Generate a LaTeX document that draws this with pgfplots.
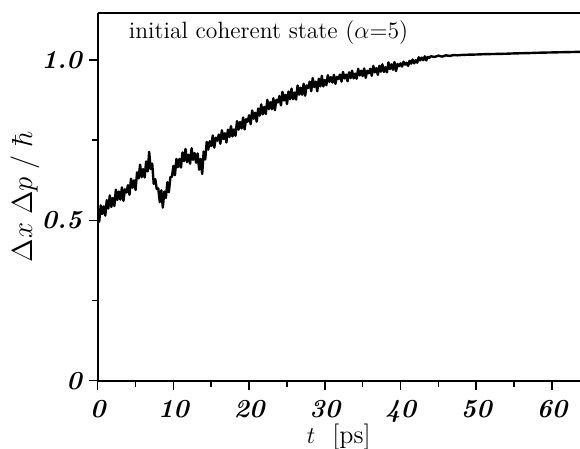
\documentclass[border=0pt]{standalone}
\usepackage{pgfplots}
\pgfplotsset{compat=1.18}
\pgfplotstableread{
t y
0.0 0.525
0.2 0.496
0.4 0.547
0.6 0.520
0.8 0.544
1.0 0.515
1.2 0.563
1.4 0.537
1.6 0.578
1.8 0.542
2.0 0.570
2.2 0.545
2.4 0.596
2.6 0.564
2.8 0.590
3.0 0.565
3.2 0.603
3.4 0.561
3.6 0.597
3.8 0.587
4.0 0.610
4.2 0.580
4.4 0.630
4.6 0.602
4.8 0.625
5.0 0.595
5.2 0.650
5.4 0.631
5.6 0.674
5.8 0.635
6.0 0.660
6.2 0.634
6.4 0.684
6.6 0.653
6.8 0.714
7.0 0.660
7.2 0.677
7.4 0.614
7.6 0.629
7.8 0.598
8.0 0.600
8.2 0.557
8.4 0.594
8.6 0.540
8.8 0.590
9.0 0.570
9.2 0.619
9.4 0.588
9.6 0.635
9.8 0.636
10.0 0.670
10.2 0.641
10.4 0.692
10.6 0.666
10.8 0.692
11.0 0.665
11.2 0.712
11.4 0.685
11.6 0.723
11.8 0.682
12.0 0.705
12.2 0.677
12.4 0.725
12.6 0.689
12.8 0.710
13.0 0.680
13.2 0.709
13.4 0.658
13.6 0.692
13.8 0.645
14.0 0.715
14.2 0.690
14.4 0.745
14.6 0.721
14.8 0.747
15.0 0.732
15.2 0.765
15.4 0.727
15.6 0.758
15.8 0.749
16.0 0.768
16.2 0.739
16.4 0.781
16.6 0.754
16.8 0.772
17.0 0.743
17.2 0.783
17.4 0.760
17.6 0.794
17.8 0.762
18.0 0.784
18.2 0.764
18.4 0.810
18.6 0.783
18.8 0.807
19.0 0.787
19.2 0.821
19.4 0.784
19.6 0.816
19.8 0.808
20.0 0.828
20.2 0.800
20.4 0.843
20.6 0.817
20.8 0.836
21.0 0.808
21.2 0.849
21.4 0.827
21.6 0.862
21.8 0.831
22.0 0.854
22.2 0.832
22.4 0.876
22.6 0.847
22.8 0.869
23.0 0.847
23.2 0.881
23.4 0.844
23.6 0.876
23.8 0.868
24.0 0.888
24.2 0.859
24.4 0.901
24.6 0.874
24.8 0.892
25.0 0.863
25.2 0.902
25.4 0.878
25.6 0.911
25.8 0.878
26.0 0.899
26.2 0.877
26.4 0.921
26.6 0.892
26.8 0.914
27.0 0.892
27.2 0.926
27.4 0.889
27.6 0.921
27.8 0.913
28.0 0.933
28.2 0.903
28.4 0.944
28.6 0.916
28.8 0.933
29.0 0.903
29.2 0.942
29.4 0.918
29.6 0.951
29.8 0.918
30.0 0.938
30.2 0.922
30.4 0.953
30.6 0.932
30.8 0.947
31.0 0.930
31.2 0.954
31.4 0.926
31.6 0.948
31.8 0.941
32.0 0.955
32.2 0.933
32.4 0.963
32.6 0.943
32.8 0.955
33.0 0.934
33.2 0.962
33.4 0.944
33.6 0.967
33.8 0.943
34.0 0.958
34.2 0.942
34.4 0.973
34.6 0.952
34.8 0.967
35.0 0.950
35.2 0.974
35.4 0.945
35.6 0.967
35.8 0.959
36.0 0.973
36.2 0.951
36.4 0.982
36.6 0.962
36.8 0.975
37.0 0.954
37.2 0.982
37.4 0.964
37.6 0.987
37.8 0.963
38.0 0.978
38.2 0.962
38.4 0.993
38.6 0.972
38.8 0.987
39.0 0.970
39.2 0.994
39.4 0.966
39.6 0.988
39.8 0.981
40.0 0.990
40.2 0.980
40.4 0.995
40.6 0.986
40.8 0.992
41.0 0.982
41.2 0.998
41.4 0.989
41.6 1.002
41.8 0.990
42.0 1.000
42.2 0.992
42.4 1.009
42.6 0.999
42.8 1.008
43.0 1.000
43.2 1.012
43.4 0.999
43.6 1.010
43.8 1.007
44.0 1.012
44.5 1.010
45.0 1.014
45.5 1.011
46.0 1.015
46.5 1.013
47.0 1.016
47.5 1.015
48.0 1.016
49.0 1.017
50.0 1.0175
51.0 1.0185
52.0 1.019
53.0 1.0195
54.0 1.020
55.0 1.021
56.0 1.0215
57.0 1.022
58.0 1.023
59.0 1.0235
60.0 1.024
61.0 1.0245
62.0 1.025
63.0 1.0255
63.7 1.026
}\datatable
\begin{document}
\begin{tikzpicture}
\begin{axis}[
  scale only axis, width=241.15pt, height=184pt,
  xmin=0, xmax=63.7, ymin=0, ymax=1.148,
  axis lines*=left,
  axis line style={line width=1pt},
  xtick={0,10,20,30,40,50,60},
  xticklabels={0,10,20,30,40,50,60},
  minor xtick={5,15,25,35,45,55},
  ytick={0,0.5,1},
  yticklabels={0,0.5,1.0},
  minor ytick={0.25,0.75},
  tick align=outside,
  major tick length=4.5pt, minor tick length=3pt,
  every tick/.style={black, line width=0.8pt},
  ticklabel style={font=\fontsize{13}{15}\selectfont\bfseries\itshape},
  xticklabel style={yshift=-2pt},
  xlabel={$t$\ \ [ps]},
  ylabel={$\Delta x\;\Delta p\;/\;\hbar$},
  xlabel style={font=\fontsize{13}{15}\selectfont, at={(axis description cs:0.5,-0.153)}, anchor=center},
  ylabel style={font=\fontsize{14}{16}\selectfont, at={(axis description cs:-0.151,0.5)}, anchor=center},
]
\addplot[black, line width=1.2pt, line join=round] table[x=t, y=y] {\datatable};
\draw[line width=1pt] (rel axis cs:0,1) -- (rel axis cs:1,1);
\node[anchor=west, font=\fontsize{11.8}{14}\selectfont] at (axis cs:3.2,1.085) {initial coherent state ($\alpha$=5)};
\end{axis}
\pgfresetboundingbox
\path ([xshift=-48.85pt,yshift=-34.15pt]current axis.south west) rectangle ([yshift=6.35pt]current axis.north east);
\end{tikzpicture}
\end{document}
